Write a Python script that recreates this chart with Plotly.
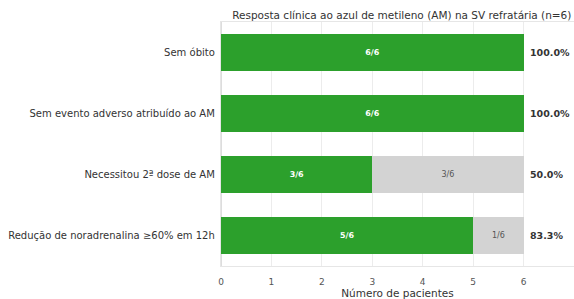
import plotly.graph_objects as go

categories = [
    "Sem óbito",
    "Sem evento adverso atribuído ao AM",
    "Necessitou 2ª dose de AM",
    "Redução de noradrenalina ≥60% em 12h",
]
yes_values = [6, 6, 3, 5]
no_values = [0, 0, 3, 1]
n_total = 6
x_ticks = [0, 1, 2, 3, 4, 5, 6, 7]

green = "#2ca02c"
gray = "#d3d3d3"
font = "DejaVu Sans"

fig = go.Figure()
fig.add_trace(go.Bar(
    y=categories, x=yes_values, orientation="h",
    marker=dict(color=green, line=dict(width=0)),
    text=[f"<b>{v}/{n_total}</b>" for v in yes_values],
    textposition="inside", insidetextanchor="middle",
    textfont=dict(color="white", size=9, family=font),
    width=0.6, hoverinfo="skip",
))
fig.add_trace(go.Bar(
    y=categories, x=no_values, orientation="h",
    marker=dict(color=gray, line=dict(width=0)),
    text=[f"{v}/{n_total}" if v > 0 else "" for v in no_values],
    textposition="inside", insidetextanchor="middle",
    textfont=dict(color="#555555", size=8, family=font),
    width=0.6, hoverinfo="skip",
))

for c, yv, nv in zip(categories, yes_values, no_values):
    fig.add_annotation(
        x=yv + nv, y=c, xref="x", yref="y",
        text=f"<b>{100 * yv / n_total:.1f}%</b>",
        showarrow=False, xanchor="left", xshift=4,
        font=dict(size=9.5, color="#333333", family=font),
    )

fig.update_layout(
    width=574, height=299,
    barmode="stack",
    showlegend=False,
    plot_bgcolor="white", paper_bgcolor="white",
    margin=dict(l=221, r=0, t=22, b=33, autoexpand=False),
    uniformtext=dict(minsize=7, mode="show"),
    title=dict(
        text="Resposta clínica ao azul de metileno (AM) na SV refratária (n=6)",
        x=0.7, xanchor="center", y=0.95, yanchor="middle",
        font=dict(size=10.5, color="#333333", family=font),
    ),
    font=dict(family=font, size=9, color="#444444"),
)
fig.update_xaxes(
    range=[0, 7], tickvals=x_ticks,
    showgrid=True, gridcolor="#ececec", gridwidth=1,
    zeroline=True, zerolinecolor="#dddddd",
    showline=True, linecolor="#e6e6e6", mirror=True,
    ticks="outside", ticklen=7, tickcolor="rgba(0,0,0,0)",
    tickfont=dict(size=9, color="#555555"),
    title=dict(text="Número de pacientes", font=dict(size=10.5, color="#333333"), standoff=0),
    automargin=False,
)
fig.update_yaxes(
    categoryorder="array", categoryarray=categories[::-1],
    showgrid=False, ticks="", ticksuffix=" ",
    showline=True, linecolor="#e6e6e6", mirror=True,
    tickfont=dict(size=10, color="#333333"),
    automargin=False,
)

fig.write_html("out.html", config={"displayModeBar": False},
               post_script="document.body.style.margin='0';")
